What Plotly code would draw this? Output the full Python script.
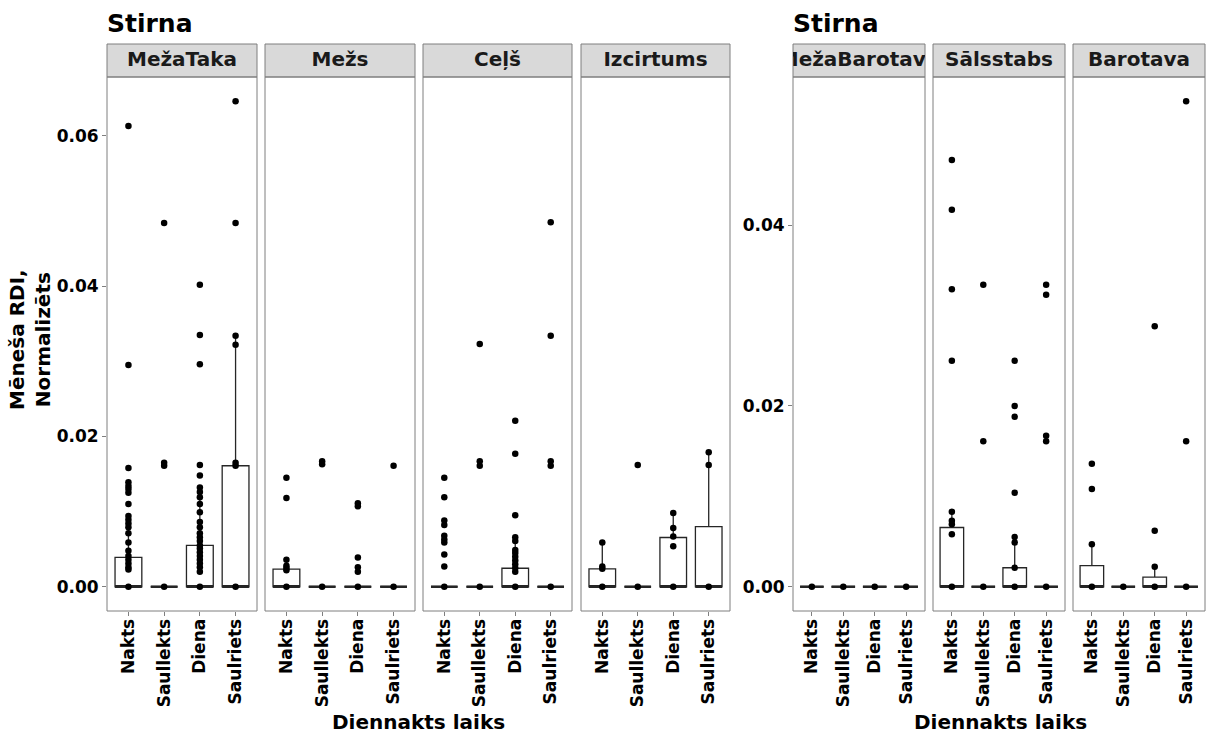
import plotly.graph_objects as go

# Time-of-day categories (x axis within each facet)
categories = ["Nakts", "Saullekts", "Diena", "Saulriets"]

# Facet names for the two halves
left_facets = ["MežaTaka", "Mežs", "Ceļš", "Izcirtums"]
right_facets = ["MežaBarotava", "Sālsstabs", "Barotava"]

# Observed monthly normalised RDI values per facet, one list per category
meza_taka_pts = [
    [0, 0.0023, 0.0026, 0.0031, 0.0036, 0.0041, 0.0048, 0.0059, 0.0071, 0.0079, 0.0084,
     0.0089, 0.0094, 0.0110, 0.0125, 0.0130, 0.0134, 0.0139, 0.0158, 0.0295, 0.0613],
    [0, 0.0161, 0.0165, 0.0484],
    [0, 0.0020, 0.0026, 0.0031, 0.0036, 0.0041, 0.0046, 0.0051, 0.0055, 0.0061, 0.0066,
     0.0071, 0.0079, 0.0086, 0.0099, 0.0110, 0.0119, 0.0126, 0.0132, 0.0148, 0.0162,
     0.0296, 0.0335, 0.0402],
    [0, 0.0161, 0.0165, 0.0322, 0.0334, 0.0484, 0.0646],
]
mezs_pts = [
    [0, 0.0022, 0.0025, 0.0028, 0.0036, 0.0118, 0.0145],
    [0, 0.0163, 0.0167],
    [0, 0.0020, 0.0026, 0.0039, 0.0107, 0.0111],
    [0, 0.0161],
]
cels_pts = [
    [0, 0.0027, 0.0043, 0.0059, 0.0063, 0.0068, 0.0082, 0.0088, 0.0119, 0.0145],
    [0, 0.0161, 0.0167, 0.0323],
    [0, 0.0020, 0.0025, 0.0030, 0.0035, 0.0040, 0.0045, 0.0049, 0.0061, 0.0066,
     0.0095, 0.0177, 0.0221],
    [0, 0.0161, 0.0167, 0.0334, 0.0485],
]
izcirtums_pts = [
    [0, 0.0024, 0.0027, 0.0059],
    [0, 0.0162],
    [0, 0.0054, 0.0067, 0.0078, 0.0098],
    [0, 0.0162, 0.0179],
]
meza_barotava_pts = [[0], [0], [0], [0]]
salsstabs_pts = [
    [0, 0.0058, 0.0069, 0.0073, 0.0083, 0.0250, 0.0329, 0.0417, 0.0472],
    [0, 0.0161, 0.0334],
    [0, 0.0021, 0.0049, 0.0055, 0.0104, 0.0188, 0.0200, 0.0250],
    [0, 0.0161, 0.0167, 0.0323, 0.0334],
]
barotava_pts = [
    [0, 0.0047, 0.0108, 0.0136],
    [0],
    [0, 0.0022, 0.0062, 0.0288],
    [0, 0.0161, 0.0537],
]

# Box summaries (lower quartile and median are zero everywhere)
meza_taka_q3 = [0.0039, 0, 0.0055, 0.0161]
meza_taka_hi = [0.0094, 0, 0.0132, 0.0334]
mezs_q3 = [0.00235, 0, 0, 0]
mezs_hi = [0.0036, 0, 0, 0]
cels_q3 = [0, 0, 0.00246, 0]
cels_hi = [0, 0, 0.0061, 0]
izcirtums_q3 = [0.00237, 0, 0.00655, 0.0080]
izcirtums_hi = [0.0059, 0, 0.0098, 0.0179]
meza_barotava_q3 = [0, 0, 0, 0]
meza_barotava_hi = [0, 0, 0, 0]
salsstabs_q3 = [0.00655, 0, 0.0021, 0]
salsstabs_hi = [0.0083, 0, 0.0055, 0]
barotava_q3 = [0.00233, 0, 0.00107, 0]
barotava_hi = [0.0047, 0, 0.0022, 0]
medians = [0, 0, 0, 0]

left_y_ticks = [0.0, 0.02, 0.04, 0.06]
right_y_ticks = [0.0, 0.02, 0.04]

W, H = 1209, 736
FONT = "DejaVu Sans"
BORDER = "#7f7f7f"
BOX_LINE = "#262626"
BOX_WIDTH = 0.75


def fx(px):
    return px / W


def fy(py):
    return 1 - py / H


PANEL_TOP, PANEL_BOTTOM = 77, 611
STRIP_TOP = 44
left_x = [(107, 257), (265, 415), (423, 572), (581, 730)]
right_x = [(793, 925), (933, 1065), (1073, 1205)]

facets = [
    ("MežaTaka", meza_taka_pts, meza_taka_q3, meza_taka_hi, "y"),
    ("Mežs", mezs_pts, mezs_q3, mezs_hi, "y"),
    ("Ceļš", cels_pts, cels_q3, cels_hi, "y"),
    ("Izcirtums", izcirtums_pts, izcirtums_q3, izcirtums_hi, "y"),
    ("MežaBarotava", meza_barotava_pts, meza_barotava_q3, meza_barotava_hi, "y2"),
    ("Sālsstabs", salsstabs_pts, salsstabs_q3, salsstabs_hi, "y2"),
    ("Barotava", barotava_pts, barotava_q3, barotava_hi, "y2"),
]
panel_x = left_x + right_x


def padded_range(groups_list):
    vals = [v for groups in groups_list for g in groups for v in g]
    lo, hi = min(vals), max(vals)
    pad = (hi - lo) * 0.05
    return [lo - pad, hi + pad]


left_range = padded_range([f[1] for f in facets[:4]])
right_range = padded_range([f[1] for f in facets[4:]])

fig = go.Figure()
layout = {}
shapes = []

tick_font = dict(family=FONT, size=17, color="black", weight="bold")

for i, (name, pts, q3, hi, yref) in enumerate(facets):
    n = i + 1
    xname = "x" if n == 1 else f"x{n}"
    xkey = "xaxis" if n == 1 else f"xaxis{n}"
    x0, x1 = panel_x[i]
    layout[xkey] = dict(
        domain=[fx(x0), fx(x1)], anchor=yref, type="category",
        categoryorder="array", categoryarray=categories, range=[-0.6, 3.6],
        tickangle=-90, ticks="outside", ticklen=4, tickwidth=1, tickcolor=BORDER,
        ticklabelstandoff=-4,
        showgrid=False, zeroline=False, showline=False, tickfont=tick_font,
    )
    zeros = [0] * len(categories)
    fig.add_trace(go.Box(
        x=categories, q1=zeros, median=medians, q3=q3, lowerfence=zeros, upperfence=hi,
        xaxis=xname, yaxis=yref, width=BOX_WIDTH, whiskerwidth=0, boxpoints=False,
        fillcolor="white", line=dict(color=BOX_LINE, width=1.3),
        showlegend=False, hoverinfo="skip",
    ))
    # heavier median bar, as wide as the box (line-ew spans 1.4 x marker size)
    box_px = (x1 - x0) / 4.2 * BOX_WIDTH
    fig.add_trace(go.Scatter(
        x=categories, y=medians, mode="markers", xaxis=xname, yaxis=yref,
        marker=dict(symbol="line-ew", size=box_px / 1.4,
                    line=dict(color=BOX_LINE, width=2.6)),
        showlegend=False, hoverinfo="skip", cliponaxis=False,
    ))
    xs, ys = [], []
    for cat, vals in zip(categories, pts):
        xs += [cat] * len(vals)
        ys += vals
    fig.add_trace(go.Scatter(
        x=xs, y=ys, mode="markers", xaxis=xname, yaxis=yref,
        marker=dict(color="black", size=6.5), showlegend=False, cliponaxis=False,
    ))

    # strip header: its own subplot so the label is clipped to the strip
    sn = 8 + i
    layout[f"xaxis{sn}"] = dict(domain=[fx(x0), fx(x1)], anchor="y3", range=[0, 1],
                                visible=False, fixedrange=True)
    fig.add_trace(go.Scatter(
        x=[0.5], y=[0.5], mode="text", text=[name], xaxis=f"x{sn}", yaxis="y3",
        textposition="middle center", cliponaxis=True,
        textfont=dict(family=FONT, size=20, color="#1a1a1a", weight="bold"),
        showlegend=False, hoverinfo="skip",
    ))
    shapes.append(dict(type="rect", xref="paper", yref="paper",
                       x0=fx(x0), x1=fx(x1), y0=fy(PANEL_TOP), y1=fy(STRIP_TOP),
                       fillcolor="#d9d9d9", line=dict(color=BORDER, width=1),
                       layer="below"))
    shapes.append(dict(type="rect", xref="paper", yref="paper",
                       x0=fx(x0), x1=fx(x1), y0=fy(PANEL_BOTTOM), y1=fy(PANEL_TOP),
                       fillcolor="rgba(0,0,0,0)", line=dict(color=BORDER, width=1),
                       layer="above"))

ydom = [fy(PANEL_BOTTOM), fy(PANEL_TOP)]
layout["yaxis"] = dict(
    domain=ydom, anchor="x", range=left_range, tickvals=left_y_ticks,
    ticktext=[f"{v:.2f}" for v in left_y_ticks], ticks="outside", ticklen=4,
    tickcolor=BORDER, showgrid=False, zeroline=False, showline=False, tickfont=tick_font,
)
layout["yaxis2"] = dict(
    domain=ydom, anchor="x5", range=right_range, tickvals=right_y_ticks,
    ticktext=[f"{v:.2f}" for v in right_y_ticks], ticks="outside", ticklen=4,
    tickcolor=BORDER, showgrid=False, zeroline=False, showline=False, tickfont=tick_font,
)
layout["yaxis3"] = dict(domain=[fy(PANEL_TOP), fy(STRIP_TOP)], anchor="x8",
                        range=[0, 1], visible=False, fixedrange=True)

title_font = dict(family=FONT, size=25, color="black", weight="bold")
axis_title_font = dict(family=FONT, size=20, color="black", weight="bold")
annotations = [
    dict(text="Stirna", x=fx(105), y=fy(23), xref="paper", yref="paper",
         xanchor="left", yanchor="middle", showarrow=False, font=title_font),
    dict(text="Stirna", x=fx(791), y=fy(23), xref="paper", yref="paper",
         xanchor="left", yanchor="middle", showarrow=False, font=title_font),
    dict(text="Diennakts laiks", x=fx(418), y=fy(722), xref="paper", yref="paper",
         xanchor="center", yanchor="middle", showarrow=False, font=axis_title_font),
    dict(text="Diennakts laiks", x=fx(1000), y=fy(722), xref="paper", yref="paper",
         xanchor="center", yanchor="middle", showarrow=False, font=axis_title_font),
    dict(text="Mēneša RDI,<br>Normalizēts", x=fx(30), y=fy(340), xref="paper",
         yref="paper", xanchor="center", yanchor="middle", textangle=-90,
         showarrow=False, font=axis_title_font),
]

fig.update_layout(
    width=W, height=H, margin=dict(l=0, r=0, t=0, b=0),
    paper_bgcolor="white", plot_bgcolor="rgba(0,0,0,0)",
    shapes=shapes, annotations=annotations, showlegend=False,
    **layout,
)

fig.write_html("out.html")
